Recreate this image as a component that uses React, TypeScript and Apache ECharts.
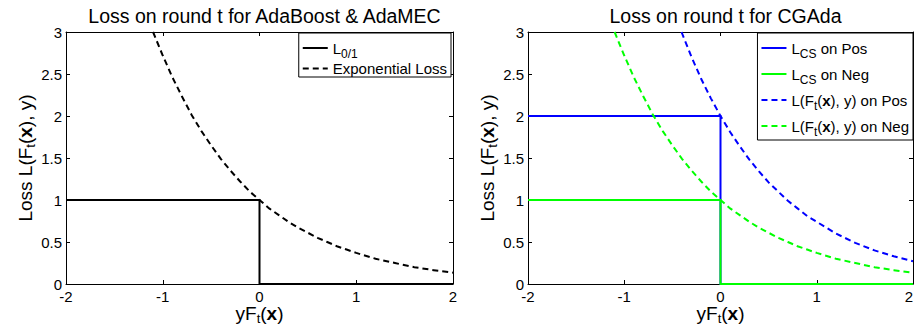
import React, { useEffect, useRef } from 'react';
import * as echarts from 'echarts';

// ---- data ----
const titles = ['Loss on round t for AdaBoost & AdaMEC', 'Loss on round t for CGAda'];

// step-shaped losses (x, y pairs)
const stepX = [-2, 0, 0, 2];
const l01Y = [1, 1, 0, 0];
const lcsPosY = [2, 2, 0, 0];
const lcsNegY = [1, 1, 0, 0];

// exponential loss (also "L on Neg")
const expX = [-1.1, -1.0, -0.9, -0.8, -0.7, -0.6, -0.5, -0.4, -0.3, -0.2, -0.1, 0, 0.1, 0.2, 0.3, 0.4, 0.5, 0.6, 0.7, 0.8, 0.9, 1.0, 1.2, 1.4, 1.6, 1.8, 2.0];
const expY = [3.0, 2.72, 2.46, 2.23, 2.01, 1.82, 1.65, 1.49, 1.35, 1.22, 1.1, 1.0, 0.9, 0.82, 0.74, 0.67, 0.61, 0.55, 0.5, 0.45, 0.41, 0.37, 0.3, 0.25, 0.2, 0.165, 0.135];

// "L on Pos" curve
const posX = [-0.405, -0.3, -0.2, -0.1, 0, 0.1, 0.2, 0.3, 0.4, 0.5, 0.6, 0.7, 0.8, 0.9, 1.0, 1.2, 1.4, 1.6, 1.8, 2.0];
const posY = [3.0, 2.7, 2.44, 2.21, 2.0, 1.81, 1.64, 1.48, 1.34, 1.21, 1.1, 0.99, 0.9, 0.81, 0.74, 0.6, 0.49, 0.4, 0.33, 0.27];

const seriesNames = ['L0/1', 'Exponential Loss', 'LCS on Pos', 'LCS on Neg', 'L(Ft(x), y) on Pos', 'L(Ft(x), y) on Neg'];
const legendLabels: Record<string, string> = {
  'L0/1': '{m|L}{s|0/1}',
  'Exponential Loss': '{m|Exponential Loss}',
  'LCS on Pos': '{m|L}{s|CS}{m| on Pos}',
  'LCS on Neg': '{m|L}{s|CS}{m| on Neg}',
  'L(Ft(x), y) on Pos': '{m|L(F}{s|t}{m|(}{b|x}{m|), y) on Pos}',
  'L(Ft(x), y) on Neg': '{m|L(F}{s|t}{m|(}{b|x}{m|), y) on Neg}',
};
const xName = '{m|yF}{s|t}{m|(}{b|x}{m|)}';
const yName = '{m|Loss L(F}{s|t}{m|(}{b|x}{m|), y)}';

const font = "'Liberation Sans', Arial, Helvetica, sans-serif";
const BLUE = '#0000ff';
const GREEN = '#00ff00';
const BLACK = '#000000';
const DASH = [6, 4];

function zip(xs: number[], ys: number[]) {
  return xs.map((x, i) => [x, ys[i]]);
}

const legendRich = {
  m: { fontSize: 15, fontFamily: font, color: BLACK, lineHeight: 18 },
  s: { fontSize: 12, fontFamily: font, color: BLACK, lineHeight: 13, padding: [12, 0, 0, 0] },
  b: { fontSize: 15, fontFamily: font, color: BLACK, fontWeight: 'bold', lineHeight: 18 },
};
const nameRich = {
  m: { fontSize: 19, fontFamily: font, color: BLACK, lineHeight: 20 },
  s: { fontSize: 13, fontFamily: font, color: BLACK, lineHeight: 14, padding: [10, 0, 0, 0] },
  b: { fontSize: 19, fontFamily: font, color: BLACK, fontWeight: 'bold', lineHeight: 20 },
};

const axisLine = { show: true, onZero: false, lineStyle: { color: BLACK, width: 1 } };
const axisTick = { show: true, inside: true, length: 4, lineStyle: { color: BLACK, width: 1 } };
const labelStyle = { color: BLACK, fontSize: 15, fontFamily: font, lineHeight: 14 };

function makeX(gridIndex: number) {
  return [
    {
      type: 'value', gridIndex, position: 'bottom', min: -2, max: 2, interval: 1,
      axisLine, axisTick, splitLine: { show: false },
      axisLabel: { ...labelStyle, margin: 5, alignMaxLabel: gridIndex === 1 ? 'right' : undefined },
      name: xName, nameLocation: 'middle', nameGap: 19, nameMoveOverlap: false,
      nameTextStyle: { rich: nameRich },
    },
    {
      type: 'value', gridIndex, position: 'top', min: -2, max: 2, interval: 1,
      axisLine, axisTick, splitLine: { show: false }, axisLabel: { show: false },
    },
  ];
}
function makeY(gridIndex: number) {
  return [
    {
      type: 'value', gridIndex, position: 'left', min: 0, max: 3, interval: 0.5,
      axisLine, axisTick, splitLine: { show: false },
      axisLabel: { ...labelStyle, margin: 4 },
      name: yName, nameLocation: 'middle', nameGap: 24, nameRotate: 90,
      nameTextStyle: { rich: nameRich },
    },
    {
      type: 'value', gridIndex, position: 'right', min: 0, max: 3, interval: 0.5,
      axisLine, axisTick, splitLine: { show: false }, axisLabel: { show: false },
    },
  ];
}

function line(name: string, data: number[][], axis: number, color: string, dashed: boolean) {
  return {
    type: 'line', name, data, xAxisIndex: axis * 2, yAxisIndex: axis * 2,
    symbol: 'none', showSymbol: false, smooth: false,
    lineStyle: { color, width: 2, type: dashed ? DASH : 'solid', cap: 'butt', join: 'miter' },
    itemStyle: { color },
    emphasis: { disabled: true },
  };
}

const legendCommon = {
  orient: 'vertical', top: 33, align: 'left',
  backgroundColor: '#ffffff', borderColor: BLACK, borderWidth: 1, borderRadius: 0,
  padding: [3, 4, 1, 3], itemWidth: 25, itemHeight: 14, itemGap: 1,
  selectedMode: false,
  itemStyle: { opacity: 0, color: 'transparent', borderWidth: 0 },
  textStyle: { color: BLACK, fontSize: 15, fontFamily: font, rich: legendRich },
  formatter: (n: string) => legendLabels[n] ?? n,
};

export default function App() {
  const ref = useRef<HTMLDivElement>(null);
  useEffect(() => {
    if (!ref.current) return;
    const chart = echarts.init(ref.current, undefined, { renderer: 'svg' });
    chart.setOption({
      animation: false,
      backgroundColor: '#ffffff',
      title: [
        { text: titles[0], left: 259.5, top: 1, textAlign: 'center', textStyle: { color: BLACK, fontSize: 19.5, fontWeight: 'normal', fontFamily: font } },
        { text: titles[1], left: 720.5, top: 1, textAlign: 'center', textStyle: { color: BLACK, fontSize: 19.5, fontWeight: 'normal', fontFamily: font } },
      ],
      grid: [
        { left: 66, top: 32, width: 387, height: 252, containLabel: false, outerBoundsMode: 'none' },
        { left: 528, top: 32, width: 385, height: 252, containLabel: false, outerBoundsMode: 'none' },
      ],
      xAxis: [...makeX(0), ...makeX(1)],
      yAxis: [...makeY(0), ...makeY(1)],
      legend: [
        { ...legendCommon, data: [seriesNames[0], seriesNames[1]], right: 463 },
        { ...legendCommon, data: seriesNames.slice(2), right: 1, itemGap: 2, padding: [3, 4, 2, 3] },
      ],
      series: [
        line(seriesNames[0], zip(stepX, l01Y), 0, BLACK, false),
        line(seriesNames[1], zip(expX, expY), 0, BLACK, true),
        line(seriesNames[2], zip(stepX, lcsPosY), 1, BLUE, false),
        line(seriesNames[3], zip(stepX, lcsNegY), 1, GREEN, false),
        line(seriesNames[4], zip(posX, posY), 1, BLUE, true),
        line(seriesNames[5], zip(expX, expY), 1, GREEN, true),
      ],
    });
    return () => chart.dispose();
  }, []);
  return <div ref={ref} style={{ position: 'absolute', left: 0, top: 0, width: 914, height: 335 }} />;
}
